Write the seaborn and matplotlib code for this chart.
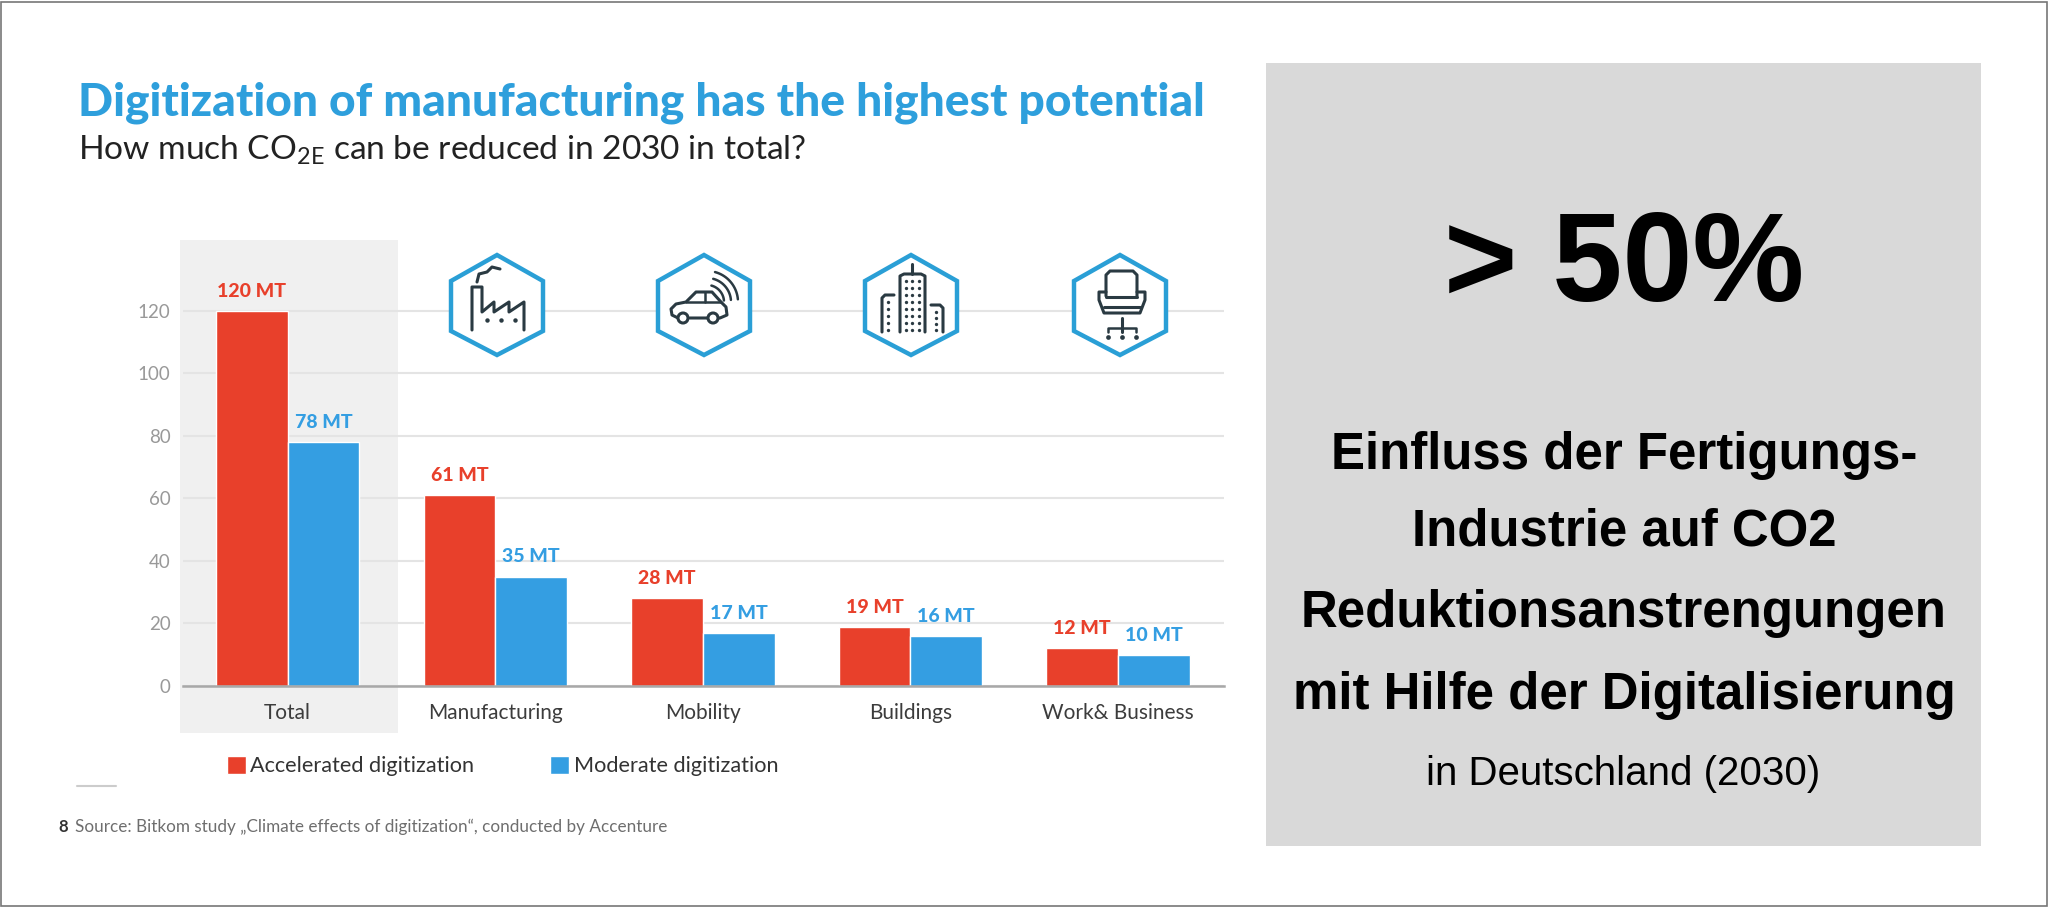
import numpy as np
import pandas as pd
import seaborn as sns
import matplotlib
matplotlib.use('Agg')
import matplotlib.pyplot as plt
from matplotlib.patches import Rectangle, Polygon, Circle

#values
categories = ['Total', 'Manufacturing', 'Mobility', 'Buildings', 'Work& Business']
accelerated = [120, 61, 28, 19, 12]
moderate = [78, 35, 17, 16, 10]
y_ticks = [0, 20, 40, 60, 80, 100, 120]
series_names = ['Accelerated digitization', 'Moderate digitization']

RED = '#E8402B'
BLUE = '#349EE2'
TITLE_BLUE = '#2E9FDC'
DARK = '#2A3A42'

data = pd.DataFrame({
    'category': categories * 2,
    'value': accelerated + moderate,
    'series': [series_names[0]] * 5 + [series_names[1]] * 5,
})

sns.set_theme(style='whitegrid')
plt.rcParams['font.family'] = ['Lato', 'DejaVu Sans']
plt.rcParams['mathtext.default'] = 'regular'

W, H = 2048, 908
fig = plt.figure(figsize=(W / 100, H / 100), dpi=100, facecolor='white')

#background layer in pixel coordinates
back = fig.add_axes([0, 0, 1, 1], zorder=0)
back.add_patch(Rectangle((0.5, 1.5), W - 2, H - 4, fc='white', ec='#777777', lw=1.2))
back.add_patch(Rectangle((180, 240), 218, 493, fc='#F0F0F0', ec='none'))
back.add_patch(Rectangle((1266, 63), 715, 783, fc='#D9D9D9', ec='none'))
back.plot([77, 116], [786, 786], color='#CCCCCC', lw=1.5)
#faint shadow under the slide screenshot
shade = np.outer(np.linspace(0, 1, 12), np.r_[np.linspace(0, 1, 20), np.linspace(1, 0, 10)])
back.imshow(1 - 0.05 * shade, extent=(190, 1390, 856, 826), cmap='gray', vmin=0, vmax=1,
            aspect='auto', origin='upper', interpolation='bilinear')
back.set_xlim(0, W)
back.set_ylim(H, 0)
back.axis('off')

#chart
ax = fig.add_axes([183 / W, 1 - 686 / H, (1224 - 183) / W, (686 - 240) / H], zorder=1)
ax.patch.set_alpha(0)
sns.barplot(data=data, x='category', y='value', hue='series', palette=[RED, BLUE],
            width=0.69, gap=0, saturation=1, ax=ax, legend=False)
ax.set_xlim(-0.504, 4.51)
ax.set_ylim(0, 142.7)
ax.set_yticks(y_ticks)
ax.set_xlabel('')
ax.set_ylabel('')
ax.set_axisbelow(True)
ax.grid(axis='x', visible=False)
ax.grid(axis='y', color='#E4E4E4', lw=1.5)
sns.despine(ax=ax, left=True)
ax.spines['bottom'].set_color('#A8A8A8')
ax.spines['bottom'].set_linewidth(1.8)
ax.tick_params(axis='y', length=0, pad=9, labelsize=13.5, labelcolor='#999999')
ax.tick_params(axis='x', length=0, pad=12, labelsize=15, labelcolor='#3C3C3C')

for container, vals, col in zip(ax.containers, [accelerated, moderate], [RED, BLUE]):
    ax.bar_label(container, labels=[f'{v} MT' for v in vals], color=col, padding=8,
                 fontsize=14, fontweight=900)

handles = [Rectangle((0, 0), 1, 1, fc=RED), Rectangle((0, 0), 1, 1, fc=BLUE)]
fig.legend(handles, series_names, loc='center left', bbox_to_anchor=(227 / W, 1 - 766 / H), ncol=2,
           frameon=False, fontsize=15.6, labelcolor='#333333', handlelength=0.88, handleheight=0.88,
           handletextpad=0.2, columnspacing=3.5, borderpad=0, borderaxespad=0)

#top layer: icons and texts
top = fig.add_axes([0, 0, 1, 1], zorder=2)
top.set_xlim(0, W)
top.set_ylim(H, 0)
top.axis('off')
top.patch.set_alpha(0)


def line(cx, cy, pts, lw=2.2):
    pts = np.array(pts, dtype=float)
    top.plot(cx + pts[:, 0], cy + pts[:, 1], color=DARK, lw=lw, solid_capstyle='round',
             solid_joinstyle='round')


def dots(cx, cy, xs, ys, size=2.4):
    xx, yy = np.meshgrid(xs, ys)
    top.plot(cx + xx.ravel(), cy + yy.ravel(), 'o', color=DARK, ms=size, mew=0)


def hexagon(cx, cy):
    pts = [(0, -50), (46, -24), (46, 26), (0, 50), (-46, 26), (-46, -24)]
    top.add_patch(Polygon([(cx + a, cy + b) for a, b in pts], closed=True, fc='white',
                          ec='#2A9FD6', lw=3.2, joinstyle='miter'))


def wheel(cx, cy):
    top.add_patch(Circle((cx, cy), 5, fc='white', ec=DARK, lw=2.2, zorder=5))


cy = 305
#factory
cx = 497
hexagon(cx, cy)
line(cx, cy, [(-25, 25), (-25, -18), (-15, -18), (-15, 7), (-3, -3), (-3, 7), (12, -3), (12, 7), (27, -3), (27, 25)])
line(cx, cy, [(-20, -23), (-18, -31), (-10, -33), (-5, -38), (3, -36)])
dots(cx, cy, [-10, 3.5, 18], [14.5], 3.2)
#car
cx = 704
hexagon(cx, cy)
line(cx, cy, [(-26, 13), (-32, 10), (-33, 4), (-28, -1), (-18, -3), (-8, -13), (8, -13), (17, -3), (22, 2), (23, 10), (16, 13), (-14, 13)])
line(cx, cy, [(-18, -3), (17, -3)], 1.8)
line(cx, cy, [(1, -13), (1, -3)], 1.8)
wheel(cx - 21, cy + 13)
wheel(cx + 9, cy + 13)
for r in [17, 24, 31]:
    t = np.radians(np.linspace(-75, -5, 20))
    line(cx, cy, np.c_[3 + r * np.cos(t), -3 + r * np.sin(t)], 1.8)
#buildings
cx = 911
hexagon(cx, cy)
line(cx, cy, [(-11, 27), (-11, -29), (-7, -31), (10, -31), (14, -29), (14, 27)])
line(cx, cy, [(1, -31), (1, -41)])
line(cx, cy, [(-29, 27), (-29, -7), (-26, -10), (-17, -10)])
line(cx, cy, [(20, 0), (29, 0), (32, 3), (32, 27)])
dots(cx, cy, [-5, 1, 8], [-24, -17, -10, -3, 4, 11, 18, 25])
dots(cx, cy, [-23], [-3, 4, 11, 18, 25])
dots(cx, cy, [25], [7, 13, 19, 25])
#chair
cx = 1120
hexagon(cx, cy)
line(cx, cy, [(-14, -9), (-14, -30), (-10, -34), (13, -34), (17, -30), (17, -9)])
line(cx, cy, [(-14, -8), (17, -8)])
line(cx, cy, [(-14, -13), (-21, -13), (-21, -5), (-16, 8), (20, 8), (25, -5), (25, -13), (17, -13)])
line(cx, cy, [(-16, 2), (20, 2)])
line(cx, cy, [(2, 13), (2, 27)])
line(cx, cy, [(-12, 27), (-12, 23), (16, 23), (16, 27)], 1.8)
dots(cx, cy, [-12, 2, 16], [32], 3.4)

top.text(78, 115, 'Digitization of manufacturing has the highest potential', color=TITLE_BLUE,
         fontsize=33.2, fontweight=900, va='baseline')
top.text(78, 160, 'How much CO$_{2E}$ can be reduced in 2030 in total?', color='#222222',
         fontsize=24.1, va='baseline')
top.text(58, 832, '8', color='#333333', fontsize=12, fontweight='bold', va='baseline')
top.text(75, 832, 'Source: Bitkom study „Climate effects of digitization“, conducted by Accenture',
         color='#6E6E6E', fontsize=12.3, va='baseline')

right = ['Einfluss der Fertigungs-', 'Industrie auf CO2', 'Reduktionsanstrengungen', 'mit Hilfe der Digitalisierung']
top.text(1624, 268, '> 50%', family='Liberation Sans', fontweight='bold', fontsize=90.5, ha='center',
         va='center', color='black')
for y, s in zip([456, 532, 614, 695], right):
    top.text(1624, y, s, family='Liberation Sans', fontweight='bold', fontsize=36.7, ha='center',
             va='center', color='black')
top.text(1623, 774, 'in Deutschland (2030)', family='Liberation Sans', fontsize=29, ha='center',
         va='center', color='black')

fig.savefig('out.png', dpi=100)
